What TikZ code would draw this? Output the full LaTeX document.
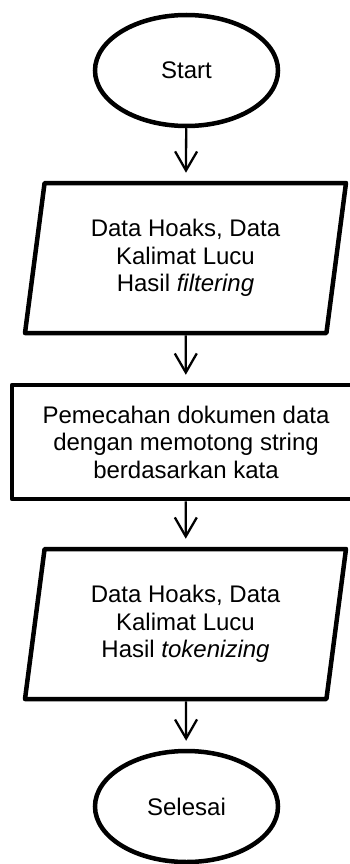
\documentclass[tikz,border=0pt]{standalone}
\usepackage{fontspec}
\setmainfont{Liberation Sans}
\usetikzlibrary{shapes.geometric,arrows.meta}
\begin{document}
\begin{tikzpicture}[x=1pt,y=-1pt,
  every node/.style={font=\fontsize{24pt}{27.5pt}\selectfont},
  terminal/.style={ellipse, draw, line width=4.5pt, minimum width=183pt, minimum height=111pt, inner sep=0pt},
  iobox/.style={trapezium, trapezium left angle=75.8, trapezium right angle=104.2,
    trapezium stretches body, draw, line width=4.5pt, line join=round,
    minimum width=321pt, minimum height=150pt, inner sep=0pt, align=center},
  procbox/.style={rectangle, draw, line width=4.5pt, line join=round,
    minimum width=348pt, minimum height=114pt, inner sep=0pt, align=center},
  flow/.style={-{Straight Barb[length=19pt,width=22pt]}, line width=2.3pt, shorten >=8pt}]
  \useasboundingbox (0,0) rectangle (350,864);

  \node[terminal] (start) at (186.5,70.5) {Start};
  \node[iobox] (in) at (185.5,258) {Data Hoaks, Data\\Kalimat Lucu\\Hasil \textit{filtering}};
  \node[procbox] (split) at (186,442) {Pemecahan dokumen data\\dengan memotong string\\berdasarkan kata};
  \node[iobox] (out) at (185.5,624) {Data Hoaks, Data\\Kalimat Lucu\\Hasil \textit{tokenizing}};
  \node[terminal] (stop) at (186.5,806.5) {Selesai};

  \draw[flow] (start) -- (in);
  \draw[flow] (in) -- (split);
  \draw[flow] (split) -- (out);
  \draw[flow] (out) -- (stop);
\end{tikzpicture}
\end{document}
